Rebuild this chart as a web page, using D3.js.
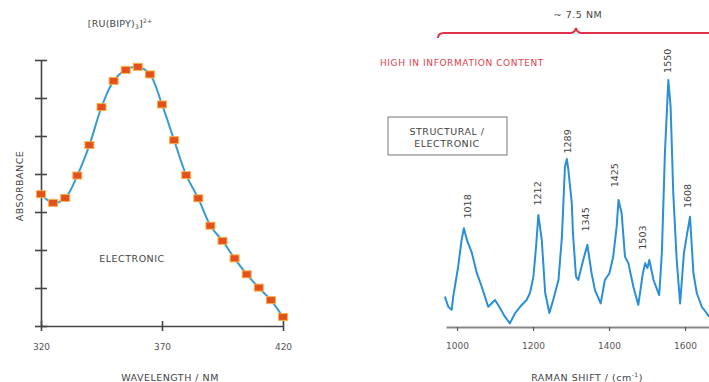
<!DOCTYPE html>
<html>
<head>
<meta charset="utf-8">
<script src="https://cdn.jsdelivr.net/npm/d3@7"></script>
<style>
  html, body { margin: 0; padding: 0; background: #fff; }
  svg { display: block; font-family: "DejaVu Sans", Verdana, sans-serif; }
  .lbl { fill: #444; font-size: 9.5px; letter-spacing: 0.5px; }
</style>
</head>
<body>
<div id="chart"></div>
<script>
// UV-vis absorbance, [Ru(bpy)3]2+
const wavelengths = [320, 325, 330, 335, 340, 345, 350, 355, 360, 365, 370, 375, 380, 385, 390, 395, 400, 405, 410, 415, 420];
const absorbance = [3.47, 3.24, 3.37, 3.96, 4.76, 5.76, 6.45, 6.74, 6.82, 6.62, 5.83, 4.89, 3.97, 3.36, 2.64, 2.24, 1.78, 1.36, 1.01, 0.68, 0.24];
const wlTicks = [320, 370, 420];

// Raman spectrum
const ramanShift = [968, 977, 986, 990, 1003, 1012, 1018, 1026, 1039, 1052, 1065, 1082, 1100, 1113, 1126, 1139, 1153, 1166, 1183, 1192, 1201, 1208, 1214, 1223, 1232, 1243, 1253, 1267, 1276, 1284, 1289, 1293, 1302, 1305, 1313, 1319, 1332, 1343, 1354, 1363, 1378, 1389, 1401, 1411, 1420, 1425, 1433, 1442, 1451, 1464, 1477, 1489, 1495, 1501, 1506, 1517, 1532, 1539, 1547, 1556, 1562, 1569, 1578, 1587, 1597, 1604, 1613, 1622, 1631, 1644, 1657, 1663];
const ramanIntensity = [11.3, 7.4, 6.2, 11.3, 22.8, 33.1, 37.6, 33.1, 28.1, 20.4, 15.1, 7.4, 10, 6.9, 3.6, 1.0, 5, 7.4, 10, 12.7, 19, 30.5, 42.7, 33.1, 12.7, 5, 10, 17.7, 34.3, 61.3, 64.2, 60, 47.2, 35.8, 19, 17.7, 25.4, 31.2, 20.3, 13.8, 8.7, 17.7, 20.3, 26.7, 38.2, 48.5, 43.5, 26.7, 24.1, 15.1, 8.1, 20.3, 24.1, 22.3, 25.4, 17.7, 11.9, 28.1, 66.5, 94.6, 84.3, 51, 25.4, 8.7, 28, 34.3, 42, 20.3, 12.6, 7.4, 4.9, 3.6];
const ramanTicks = [1000, 1200, 1400, 1600];
const peakLabels = ['1018', '1212', '1289', '1345', '1425', '1503', '1550', '1608'];
const peakPos = [1028, 1212, 1291, 1340, 1416, 1490, 1555, 1608];
const peakLabelLevel = [46, 51, 71, 41, 58, 34, 102, 50];

const W = 709, H = 382;
const svg = d3.select('#chart').append('svg').attr('width', W).attr('height', H);
svg.append('rect').attr('width', W).attr('height', H).attr('fill', '#fff');

// ---------- left panel ----------
const x = d3.scaleLinear().domain([320, 420]).range([41, 283]);
const y = d3.scaleLinear().domain([0, 7]).range([326, 60]);

const yAxis = svg.append('g')
  .attr('transform', 'translate(41,0)')
  .call(d3.axisLeft(y).ticks(7).tickSizeOuter(0).tickFormat(''));
yAxis.select('.domain').attr('stroke', '#444').attr('stroke-width', 1.6);
yAxis.selectAll('.tick line').attr('x1', -6).attr('x2', 6).attr('stroke', '#444').attr('stroke-width', 1.6);

const xAxis = svg.append('g')
  .attr('transform', 'translate(0,326)')
  .call(d3.axisBottom(x).tickValues(wlTicks).tickSizeOuter(0));
xAxis.select('.domain').attr('stroke', '#444').attr('stroke-width', 1.6);
xAxis.selectAll('.tick line').attr('y1', -5).attr('y2', 5).attr('stroke', '#444').attr('stroke-width', 1.6);
xAxis.selectAll('.tick text').attr('y', 18).attr('fill', '#555').attr('font-size', 9)
  .attr('font-family', '"DejaVu Sans", Verdana, sans-serif');

const curve = d3.line()
  .x((d, i) => x(wavelengths[i]))
  .y(d => y(d))
  .curve(d3.curveCatmullRom);
svg.append('path').datum(absorbance)
  .attr('d', curve).attr('fill', 'none')
  .attr('stroke', '#3b9bd0').attr('stroke-width', 2);

svg.append('g').selectAll('rect').data(absorbance).join('rect')
  .attr('x', (d, i) => x(wavelengths[i]) - 4.5)
  .attr('y', d => y(d) - 3.5)
  .attr('width', 9).attr('height', 7)
  .attr('fill', '#e4501c').attr('stroke', '#f8b24a').attr('stroke-width', 1);

const title = svg.append('text').attr('class', 'lbl').attr('x', 120).attr('y', 27)
  .attr('text-anchor', 'middle').attr('font-size', 8.5).style('letter-spacing', '0.2px');
title.append('tspan').text('[RU(BIPY)');
title.append('tspan').attr('dy', 2).attr('font-size', 6).text('3');
title.append('tspan').attr('dy', -2).text(']');
title.append('tspan').attr('dy', -4).attr('font-size', 6).text('2+');

svg.append('text').attr('class', 'lbl')
  .attr('transform', 'translate(23,186) rotate(-90)')
  .attr('text-anchor', 'middle').text('ABSORBANCE');
svg.append('text').attr('class', 'lbl').attr('x', 132).attr('y', 262)
  .attr('text-anchor', 'middle').text('ELECTRONIC');
svg.append('text').attr('class', 'lbl').attr('x', 170).attr('y', 381)
  .attr('text-anchor', 'middle').text('WAVELENGTH / NM');

// ---------- right panel ----------
const xr = d3.scaleLinear().domain([971, 1663]).range([446, 709]);
const yr = d3.scaleLinear().domain([0, 100]).range([326, 66]);

const xrAxis = svg.append('g')
  .attr('transform', 'translate(0,327)')
  .call(d3.axisBottom(xr).tickValues(ramanTicks).tickFormat(d3.format('d')).tickSizeOuter(0).tickSizeInner(4));
xrAxis.select('.domain').attr('stroke', '#888').attr('stroke-width', 2);
xrAxis.selectAll('.tick line').attr('stroke', '#555').attr('stroke-width', 1.2);
xrAxis.selectAll('.tick text').attr('y', 16).attr('fill', '#555').attr('font-size', 9)
  .attr('font-family', '"DejaVu Sans", Verdana, sans-serif');

const spec = d3.line()
  .x((d, i) => xr(ramanShift[i]))
  .y(d => yr(d));
svg.append('path').datum(ramanIntensity)
  .attr('d', spec).attr('fill', 'none')
  .attr('stroke', '#2a8fd6').attr('stroke-width', 2).attr('stroke-linejoin', 'round');

svg.append('g').selectAll('text').data(peakLabels).join('text')
  .attr('class', 'lbl').attr('font-size', 8).style('letter-spacing', '0px')
  .attr('transform', (d, i) => `translate(${xr(peakPos[i]) + 3},${yr(peakLabelLevel[i])}) rotate(-90)`)
  .attr('text-anchor', 'middle')
  .text(d => d);

const xl = svg.append('text').attr('class', 'lbl').attr('x', 587).attr('y', 381)
  .attr('text-anchor', 'middle');
xl.append('tspan').text('RAMAN SHIFT / (cm');
xl.append('tspan').attr('dy', -4).attr('font-size', 6).text('-1');
xl.append('tspan').attr('dy', 4).text(')');

// box
svg.append('rect').attr('x', 388).attr('y', 117).attr('width', 119).attr('height', 38)
  .attr('fill', '#fff').attr('stroke', '#777').attr('stroke-width', 1);
svg.append('text').attr('class', 'lbl').attr('x', 447).attr('y', 135)
  .attr('text-anchor', 'middle').attr('font-size', 8.5).text('STRUCTURAL /');
svg.append('text').attr('class', 'lbl').attr('x', 447).attr('y', 147)
  .attr('text-anchor', 'middle').attr('font-size', 8.5).text('ELECTRONIC');

// brace + annotation
svg.append('path')
  .attr('d', 'M438,38 Q438,33 444,33 L570,33 Q575,33 576,28 Q577,33 582,33 L712,33')
  .attr('fill', 'none').attr('stroke', '#e0304a').attr('stroke-width', 2);
svg.append('text').attr('class', 'lbl').attr('x', 578).attr('y', 18)
  .attr('text-anchor', 'middle').attr('font-size', 8.5).text('~ 7.5 NM');
svg.append('text').attr('x', 380).attr('y', 66)
  .attr('fill', '#e0404e').attr('font-size', 9).style('letter-spacing', '0.6px')
  .text('HIGH IN INFORMATION CONTENT');
</script>
</body>
</html>
